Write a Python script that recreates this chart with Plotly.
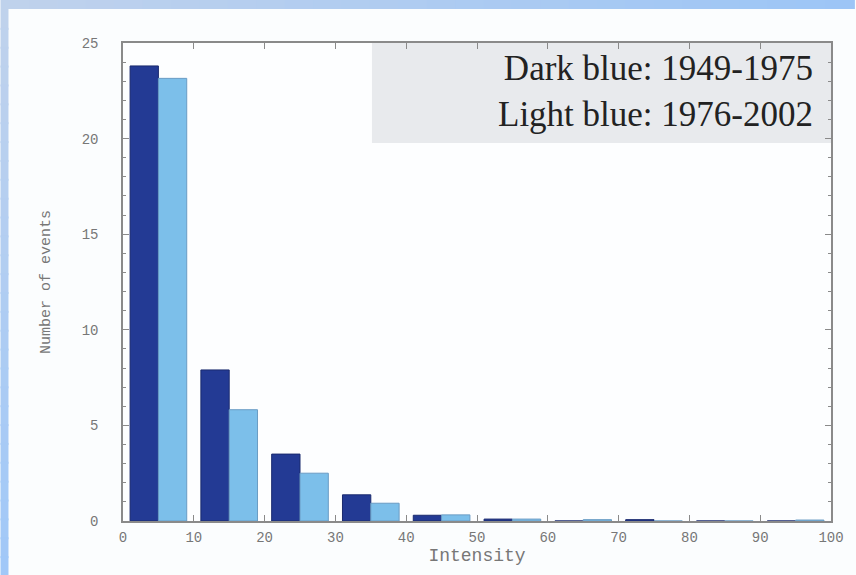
import plotly.graph_objects as go

# ---- data ----
bin_centers = [5, 15, 25, 35, 45, 55, 65, 75, 85, 95]
dark_1949_1975 = [23.8, 7.9, 3.5, 1.37, 0.3, 0.1, 0.0, 0.07, 0.0, 0.0]
light_1976_2002 = [23.15, 5.82, 2.5, 0.93, 0.32, 0.1, 0.07, 0.0, 0.0, 0.05]
x_ticks = [0, 10, 20, 30, 40, 50, 60, 70, 80, 90, 100]
y_ticks = [0, 5, 10, 15, 20, 25]
legend_lines = ["Dark blue: 1949-1975", "Light blue: 1976-2002"]

W, H = 856, 575
L, R, T, B = 123, 834, 43, 521  # plot area in pixels


def px2x(px):
    return (px - L) / (R - L)


def py2y(py):
    return (B - py) / (B - T)


def lerp_color(c1, c2, t):
    a = [int(c1[i:i + 2], 16) for i in (1, 3, 5)]
    b = [int(c2[i:i + 2], 16) for i in (1, 3, 5)]
    return "#%02x%02x%02x" % tuple(round(a[k] + (b[k] - a[k]) * t) for k in range(3))


fig = go.Figure()
fig.add_trace(go.Bar(x=bin_centers, y=dark_1949_1975, name="1949-1975",
                     marker=dict(color="#233a94", line=dict(color="#1a2a6e", width=1))))
fig.add_trace(go.Bar(x=bin_centers, y=light_1976_2002, name="1976-2002",
                     marker=dict(color="#7cbfea", line=dict(color="#6a9cc4", width=1))))

shapes = []
# frame gradient strips (decoration)
n = 30
for i in range(n):
    x0 = i * W / n
    x1 = (i + 1) * W / n + 2
    shapes.append(dict(type="rect", xref="paper", yref="paper",
                       x0=px2x(x0), x1=px2x(x1), y0=py2y(9), y1=py2y(0),
                       fillcolor=lerp_color("#c0d2ec", "#9cc5f6", (i + 0.5) / n),
                       line=dict(width=0), layer="below"))
for i in range(n):
    y0 = 9 + i * (H - 9) / n
    y1 = 9 + (i + 1) * (H - 9) / n + 2
    shapes.append(dict(type="rect", xref="paper", yref="paper",
                       x0=px2x(0), x1=px2x(8), y0=py2y(y1), y1=py2y(y0),
                       fillcolor=lerp_color("#c0d2ec", "#a0c8f8", (i + 0.5) / n),
                       line=dict(width=0), layer="below"))
# legend box
shapes.append(dict(type="rect", xref="paper", yref="paper",
                   x0=px2x(373), x1=1, y0=py2y(143), y1=1,
                   fillcolor="#e8eaed", line=dict(width=0), layer="below"))

annotations = [dict(text="<br>".join(legend_lines), xref="paper", yref="paper",
                    x=px2x(818), y=py2y(91), xanchor="right", yanchor="middle",
                    align="right", showarrow=False,
                    font=dict(family="Liberation Serif", size=35, color="#222222"))]

axis_common = dict(showline=True, linecolor="#8a8a8a", linewidth=1.5, mirror="ticks",
                   ticks="inside", ticklen=6, tickcolor="#8a8a8a", tickwidth=1,
                   showgrid=False, zeroline=False,
                   tickfont=dict(family="Liberation Mono", size=14, color="#777777"))

fig.update_layout(
    width=W, height=H,
    margin=dict(l=L, r=W - R, t=T, b=H - B),
    paper_bgcolor="#fbfdfe", plot_bgcolor="#fdfeff",
    barmode="group", bargap=0.2, bargroupgap=0.0,
    showlegend=False,
    shapes=shapes, annotations=annotations,
    xaxis=dict(range=[0, 100], tickvals=x_ticks, ticktext=[str(v) for v in x_ticks],
               ticklabelstandoff=2,
               title=dict(text="Intensity", standoff=0,
                          font=dict(family="Liberation Mono", size=18, color="#777777")),
               **axis_common),
    yaxis=dict(range=[0, 25], tickvals=y_ticks, ticktext=[str(v) for v in y_ticks],
               ticklabelstandoff=20,
               minor=dict(dtick=1, ticks="inside", ticklen=3, tickcolor="#8a8a8a", showgrid=False),
               title=dict(text="Number of events", standoff=27,
                          font=dict(family="Liberation Mono", size=15, color="#777777")),
               **axis_common),
)

fig.write_html("out.html", config={"displayModeBar": False},
               post_script="document.body.style.margin='0';document.body.style.padding='0';")
